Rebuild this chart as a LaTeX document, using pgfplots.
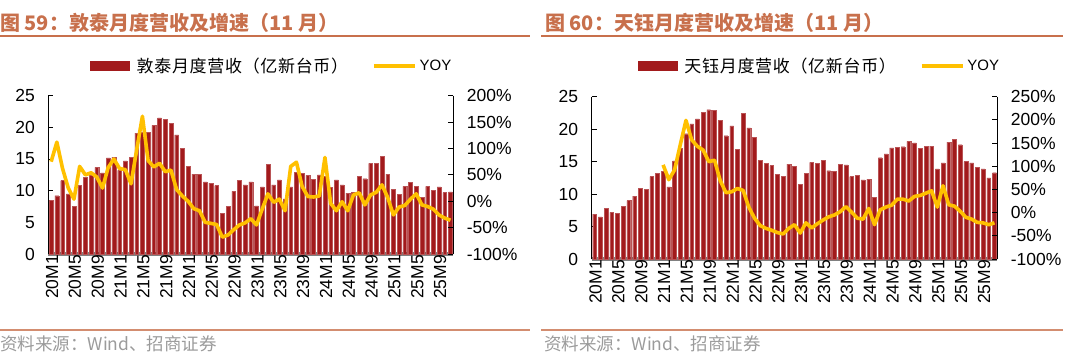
\documentclass[border=0pt]{standalone}
\usepackage{pgfplots}
\usepackage{pgfplotstable}
\pgfplotsset{compat=1.18}
\usepackage{fontspec}
\setmainfont{Liberation Sans}
\newfontfamily\cjk{Noto Sans CJK SC}
\newfontfamily\cjkleg[LetterSpace=4]{Noto Sans CJK SC}
\definecolor{barred}{RGB}{162,26,28}
\definecolor{yoyc}{RGB}{255,192,0}
\definecolor{titlec}{RGB}{200,112,76}
\definecolor{srcc}{RGB}{155,155,155}

\pgfplotstableread{
x a b
1 8.5 75
2 9.2 112
3 11.6 62
4 9.5 25
5 7.5 4
6 10.8 66
7 12.1 50
8 12.4 54
9 13.7 46
10 12.8 25
11 15.2 64
12 15.3 80
13 13.2 62
14 14.7 60
15 15.3 33
16 19.1 98
17 19.3 161
18 19.2 77
19 20.3 65
20 21.5 72
21 21.3 56
22 20.6 59
23 18.8 22
24 16.7 10
25 13.8 0
26 12.6 -14
27 12.6 -18
28 11.4 -40
29 11.2 -42
30 10.8 -44
31 6.4 -68
32 7.5 -64
33 9.9 -54
34 11.6 -45
35 10.9 -41
36 11.4 -33
37 7.6 -45
38 10.6 -15
39 14.2 14
40 10.9 -2
41 11.7 4
42 8.7 -18
43 10.6 66
44 12.9 74
45 12.7 28
46 12.4 9
47 11.8 8
48 12.5 10
49 12.3 83
50 10.5 -4
51 11.7 -18
52 10.9 -1
53 9.6 -18
54 9.7 12
55 12.3 16
56 11.9 -7
57 14.3 12
58 14.3 17
59 15.4 31
60 12.6 7
61 10.2 -26
62 9.4 -11
63 10.7 -8
64 11.3 4
65 10.7 14
66 8.9 -7
67 10.7 -10
68 10.1 -15
69 10.6 -26
70 9.7 -32
71 9.8 -36
}\dtA

\pgfplotstableread{
x a b
1 6.9 nan
2 6.5 nan
3 7.8 nan
4 7.2 nan
5 7.0 nan
6 8.1 nan
7 9.0 nan
8 9.7 nan
9 10.9 nan
10 10.7 nan
11 12.7 nan
12 13.2 nan
13 13.5 103
14 11.1 71
15 15.1 92
16 17.0 146
17 19.3 199
18 20.8 157
19 21.6 143
20 22.6 135
21 23.0 110
22 22.9 113
23 21.4 69
24 19.0 43
25 20.5 45
26 16.9 52
27 22.4 48
28 20.2 12
29 18.7 -12
30 15.2 -28
31 14.7 -34
32 14.4 -38
33 13.0 -43
34 12.7 -46
35 14.6 -34
36 14.3 -26
37 11.5 -44
38 13.2 -22
39 14.9 -33
40 14.7 -24
41 15.2 -16
42 13.6 -9
43 13.5 -5
44 14.6 2
45 14.5 13
46 12.7 1
47 12.9 -12
48 12.2 -14
49 12.3 9
50 9.5 -26
51 15.6 6
52 16.2 12
53 17.1 16
54 17.2 29
55 17.3 29
56 18.1 25
57 17.9 35
58 17.0 37
59 17.4 42
60 17.4 47
61 13.9 12
62 14.8 58
63 18.0 17
64 18.4 14
65 17.6 3
66 15.0 -10
67 14.8 -14
68 14.1 -21
69 13.9 -22
70 12.5 -26
71 13.3 -22
}\dtB

\pgfplotsset{
  tickfont/.style={font=\fontsize{17.5}{18}\selectfont},
  baraxis/.style={
    scale only axis, anchor=south west,
    /pgf/number format/assume math mode=true,
    xmin=0.5, xmax=71.5, ymin=0, ymax=25,
    ytick={0,5,...,25},
    axis x line*=bottom, axis y line*=left,
    tick align=inside, major tick length=5pt,
    xtick={1,5,...,69},
    xticklabels={20M1,20M5,20M9,21M1,21M5,21M9,22M1,22M5,22M9,23M1,23M5,23M9,24M1,24M5,24M9,25M1,25M5,25M9},
    x tick label style={rotate=90, anchor=east, tickfont, inner sep=1pt, yshift=-1pt},
    y tick label style={tickfont, xshift=-10pt},
    major x tick style={draw=none},
    y axis line style={black, line width=0.8pt},
    ytick style={black, line width=0.8pt},
    x axis line style={draw=gray, line width=3.5pt},
    axis line style={-},
    clip=false,
    legend columns=2,
    legend style={draw=none, fill=none, font=\fontsize{17}{18}\selectfont,
      /tikz/every even column/.append style={column sep=22pt},
      /tikz/every odd column/.append style={column sep=5pt},
      anchor=center, inner sep=0pt},
  },
  yoyaxis/.style={
    scale only axis, anchor=south west,
    /pgf/number format/assume math mode=true,
    xmin=0.5, xmax=71.5,
    axis y line*=right, axis x line=none,
    tick align=inside, major tick length=5pt,
    y tick label style={tickfont, xshift=10pt},
    y axis line style={black, line width=0.8pt},
    ytick style={black, line width=0.8pt},
    axis line style={-},
  },
}

\begin{document}
\begin{tikzpicture}
\path[use as bounding box] (0pt,0pt) rectangle (1075pt,357pt);

% ---------- Panel 1 ----------
\node[anchor=west, text=titlec, font=\cjk\bfseries\fontsize{20}{20}\selectfont, inner sep=0pt] at (0pt,334.5pt) {图 59：敦泰月度营收及增速（11 月）};
\draw[titlec, line width=2pt] (0pt,320.5pt) -- (530pt,320.5pt);
\draw[titlec!80!white, line width=1.5pt] (0pt,27pt) -- (530pt,27pt);
\node[anchor=west, text=srcc, font=\cjk\fontsize{17.5}{18}\selectfont, inner sep=0pt] at (0pt,13pt) {资料来源：Wind、招商证券};

\begin{axis}[baraxis, at={(48.3pt,103pt)}, width=405pt, height=158.3pt,
  legend style={at={(axis description cs:0.552,1.188)}}]
\addplot[ybar, bar width=3.8pt, bar shift=0pt, fill=barred, draw=barred!75!white, line width=0.3pt,
  legend image code/.code={\fill[barred] (0pt,-4.5pt) rectangle (39pt,4.5pt);}]
  table[x=x,y=a]{\dtA};
\addlegendentry{\cjkleg 敦泰月度营收（亿新台币）}
\addlegendimage{legend image code/.code={\draw[yoyc, line width=3.5pt] (0pt,0pt) -- (41pt,0pt);}}
\addlegendentry{\hspace*{-4pt}\fontsize{15}{15}\selectfont YOY}
\end{axis}
\begin{axis}[yoyaxis, at={(48.3pt,103pt)}, width=405pt, height=158.3pt,
  ymin=-100, ymax=200, ytick={-100,-50,...,200},
  yticklabels={-100\%,-50\%,0\%,50\%,100\%,150\%,200\%}]
\addplot[yoyc, line width=3.6pt, line join=round, mark=none] table[x=x,y=b]{\dtA};
\end{axis}

% ---------- Panel 2 ----------
\node[anchor=west, text=titlec, font=\cjk\bfseries\fontsize{20}{20}\selectfont, inner sep=0pt] at (545pt,334.5pt) {图 60：天钰月度营收及增速（11 月）};
\draw[titlec, line width=2pt] (541pt,320.5pt) -- (1063pt,320.5pt);
\draw[titlec!80!white, line width=1.5pt] (541pt,27pt) -- (1063pt,27pt);
\node[anchor=west, text=srcc, font=\cjk\fontsize{17.5}{18}\selectfont, inner sep=0pt] at (544pt,13pt) {资料来源：Wind、招商证券};

\begin{axis}[baraxis, at={(591.7pt,98pt)}, width=405.6pt, height=162.3pt,
  legend style={at={(axis description cs:0.562,1.19)}}]
\addplot[ybar, bar width=3.8pt, bar shift=0pt, fill=barred, draw=barred!75!white, line width=0.3pt,
  legend image code/.code={\fill[barred] (0pt,-4.5pt) rectangle (39pt,4.5pt);}]
  table[x=x,y=a]{\dtB};
\addlegendentry{\cjkleg 天钰月度营收（亿新台币）}
\addlegendimage{legend image code/.code={\draw[yoyc, line width=3.5pt] (0pt,0pt) -- (41pt,0pt);}}
\addlegendentry{\hspace*{-4pt}\fontsize{15}{15}\selectfont YOY}
\end{axis}
\begin{axis}[yoyaxis, at={(591.7pt,98pt)}, width=405.6pt, height=162.3pt,
  ymin=-100, ymax=250, ytick={-100,-50,...,250},
  yticklabels={-100\%,-50\%,0\%,50\%,100\%,150\%,200\%,250\%}]
\addplot[yoyc, line width=3.6pt, line join=round, mark=none] table[x=x,y=b]{\dtB};
\end{axis}
\end{tikzpicture}
\end{document}
